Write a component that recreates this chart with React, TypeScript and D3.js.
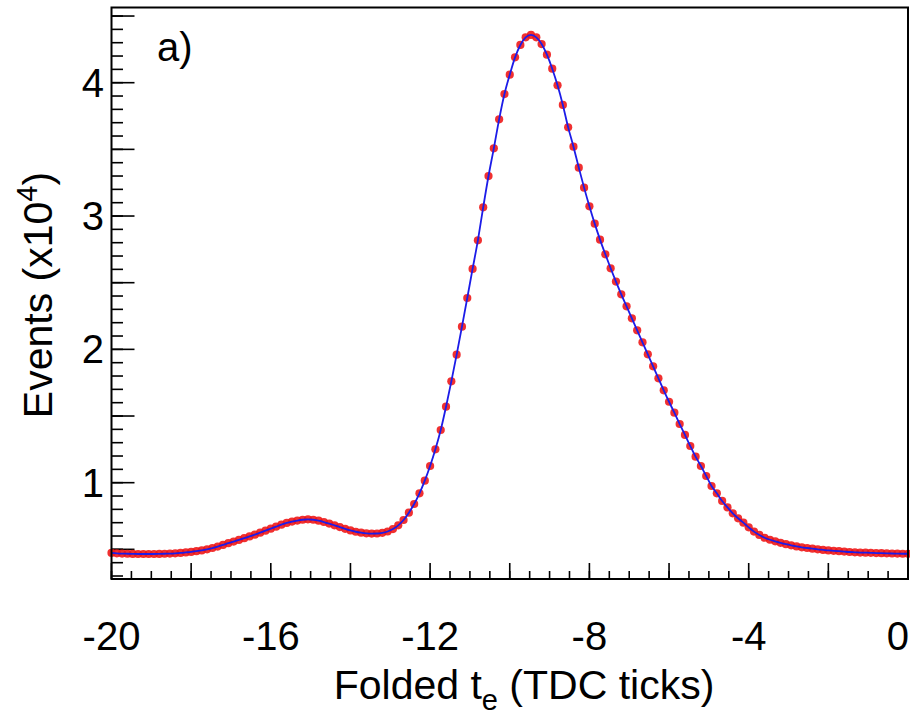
import React from "react";
import * as d3 from "d3";

// Folded t_e distribution: 150 bins from -20 to 0 TDC ticks (values in units of 10^4 events)
const xMin = -20;
const xMax = 0;
const eventValues = [
  0.473, 0.470, 0.468, 0.467, 0.466, 0.465, 0.465, 0.465, 0.465, 0.466,
  0.467, 0.468, 0.470, 0.473, 0.477, 0.481, 0.486, 0.492, 0.500, 0.510,
  0.521, 0.533, 0.546, 0.558, 0.571, 0.584, 0.597, 0.610, 0.625, 0.640,
  0.655, 0.670, 0.685, 0.698, 0.708, 0.716, 0.722, 0.725, 0.722, 0.715,
  0.705, 0.693, 0.680, 0.667, 0.654, 0.642, 0.632, 0.625, 0.620, 0.618,
  0.619, 0.624, 0.634, 0.652, 0.680, 0.720, 0.775, 0.840, 0.920, 1.015,
  1.125, 1.250, 1.395, 1.570, 1.760, 1.960, 2.170, 2.385, 2.603, 2.818,
  3.065, 3.300, 3.508, 3.725, 3.915, 4.060, 4.190, 4.283, 4.340, 4.358,
  4.340, 4.290, 4.210, 4.105, 3.980, 3.833, 3.665, 3.520, 3.363, 3.213,
  3.073, 2.943, 2.823, 2.713, 2.608, 2.508, 2.413, 2.323, 2.233, 2.143,
  2.053, 1.963, 1.873, 1.783, 1.693, 1.607, 1.525, 1.440, 1.358, 1.275,
  1.195, 1.125, 1.050, 0.975, 0.920, 0.863, 0.815, 0.770, 0.733, 0.700,
  0.665, 0.633, 0.608, 0.587, 0.572, 0.560, 0.549, 0.539, 0.530, 0.522,
  0.515, 0.510, 0.505, 0.500, 0.496, 0.492, 0.489, 0.486, 0.483, 0.480,
  0.478, 0.476, 0.475, 0.474, 0.472, 0.471, 0.470, 0.469, 0.468, 0.467, 0.467,
];
const xLabelTicks = [-20, -16, -12, -8, -4, 0];
const yLabelTicks = [1, 2, 3, 4];
const yDomain = [0.2776, 4.564];

const W = 910;
const H = 722;
const left = 111.5;
const right = 908;
const top = 7.5;
const bottom = 579;
const FONT = "'Liberation Sans', Arial, Helvetica, sans-serif";

export default function App() {
  const n = eventValues.length;
  const points = eventValues.map((v, i) => ({
    x: xMin + (i * (xMax - xMin)) / (n - 1),
    y: v,
  }));
  const x = d3.scaleLinear().domain([xMin, xMax]).range([left, right]);
  const y = d3.scaleLinear().domain(yDomain).range([bottom, top]);

  const xMajor = d3.range(xMin, xMax + 0.001, 2);
  const xMinor = d3.range(xMin, xMax + 0.001, 0.5);
  const yMajor = d3.range(0.5, yDomain[1], 0.5);
  const yMinor = d3.range(0.3, yDomain[1], 0.1);

  const line = d3
    .line<{ x: number; y: number }>()
    .x((d) => x(d.x))
    .y((d) => y(d.y))
    .curve(d3.curveMonotoneX);

  return (
    <svg
      width={W}
      height={H}
      style={{ position: "absolute", left: 0, top: 0, background: "#fff" }}
      fontFamily={FONT}
    >
      <rect x={0} y={0} width={W} height={H} fill="#fff" />
      {/* ticks */}
      <g stroke="#000" strokeWidth={1.6}>
        {xMinor.map((t) => (
          <line key={"xm" + t} x1={x(t)} x2={x(t)} y1={bottom} y2={bottom - 8} />
        ))}
        {xMajor.map((t) => (
          <line key={"xM" + t} x1={x(t)} x2={x(t)} y1={bottom} y2={bottom - 16} />
        ))}
        {yMinor.map((t) => (
          <line key={"ym" + t} x1={left} x2={left + 11.5} y1={y(t)} y2={y(t)} />
        ))}
        {yMajor.map((t) => (
          <line key={"yM" + t} x1={left} x2={left + 23} y1={y(t)} y2={y(t)} />
        ))}
      </g>
      {/* data points */}
      <g fill="#ee1313" fillOpacity={0.88}>
        {points.map((p, i) => (
          <circle key={i} cx={x(p.x)} cy={y(p.y)} r={4.1} />
        ))}
      </g>
      <path d={line(points) || ""} fill="none" stroke="#1c1ce8" strokeWidth={1.8} />
      {/* frame */}
      <rect
        x={left}
        y={top}
        width={right - left}
        height={bottom - top}
        fill="none"
        stroke="#000"
        strokeWidth={2}
      />
      {/* tick labels */}
      <g fontSize={40} fill="#000">
        {xLabelTicks.map((t, i) => {
          const last = i === xLabelTicks.length - 1;
          return (
            <text
              key={"xl" + t}
              x={last ? 909 : x(t)}
              y={650}
              textAnchor={last ? "end" : "middle"}
            >
              {t}
            </text>
          );
        })}
        {yLabelTicks.map((t) => (
          <text key={"yl" + t} x={104} y={y(t) + 14} textAnchor="end">
            {t}
          </text>
        ))}
      </g>
      {/* axis titles */}
      <text x={524} y={699} fontSize={41} textAnchor="middle" fill="#000">
        Folded t
        <tspan fontSize={29} dy={11}>
          e
        </tspan>
        <tspan dy={-11}> (TDC ticks)</tspan>
      </text>
      <text
        transform={`translate(52, 295) rotate(-90)`}
        fontSize={41}
        textAnchor="middle"
        fill="#000"
      >
        Events (x10
        <tspan fontSize={29} dy={-15}>
          4
        </tspan>
        <tspan dy={15}>)</tspan>
      </text>
      <text x={157} y={61} fontSize={40} fill="#000">
        a)
      </text>
    </svg>
  );
}
